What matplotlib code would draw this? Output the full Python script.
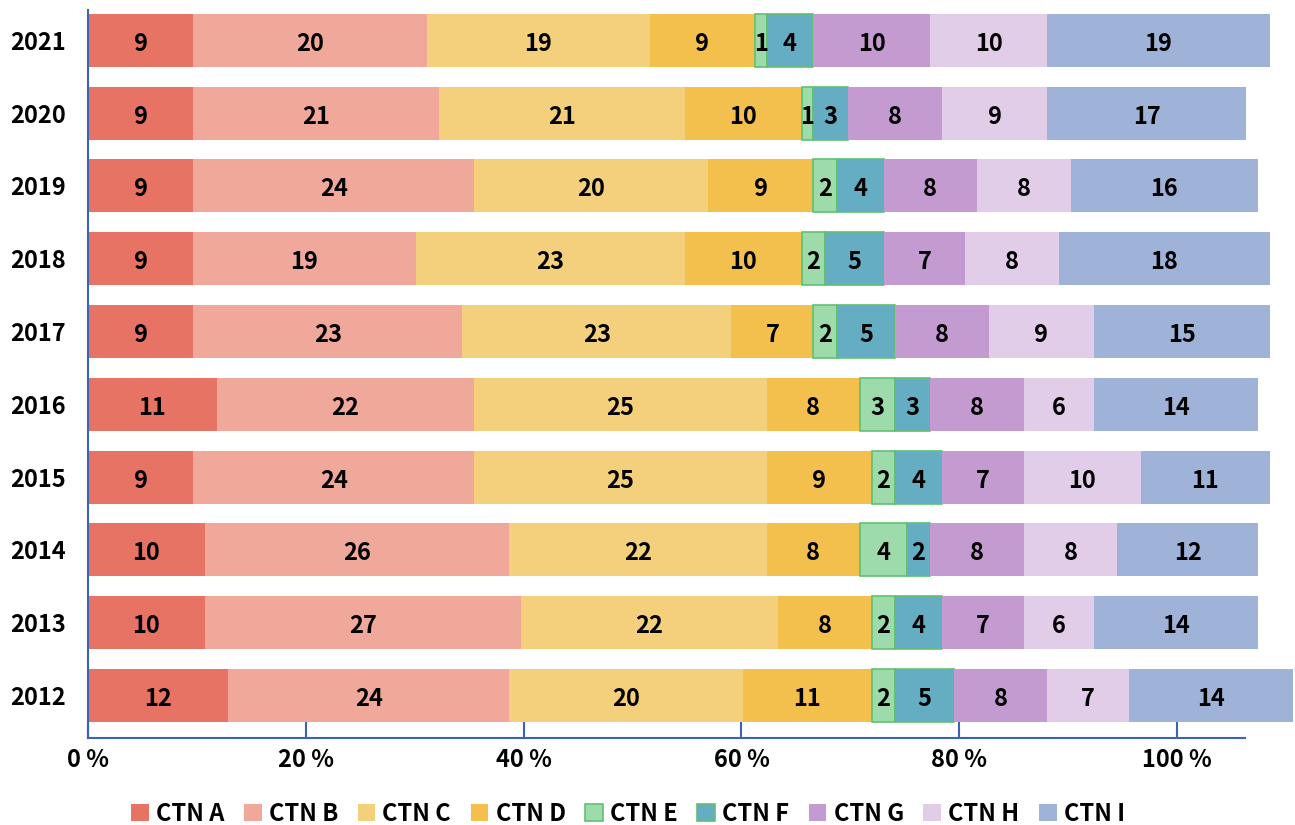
import matplotlib
matplotlib.use("Agg")
import matplotlib.pyplot as plt
import matplotlib.transforms as mtransforms
import numpy as np

years = ["2012", "2013", "2014", "2015", "2016", "2017", "2018", "2019", "2020", "2021"]
series_names = ["CTN A", "CTN B", "CTN C", "CTN D", "CTN E", "CTN F", "CTN G", "CTN H", "CTN I"]

ctn_a = [12, 10, 10, 9, 11, 9, 9, 9, 9, 9]
ctn_b = [24, 27, 26, 24, 22, 23, 19, 24, 21, 20]
ctn_c = [20, 22, 22, 25, 25, 23, 23, 20, 21, 19]
ctn_d = [11, 8, 8, 9, 8, 7, 10, 9, 10, 9]
ctn_e = [2, 2, 4, 2, 3, 2, 2, 2, 1, 1]
ctn_f = [5, 4, 2, 4, 3, 5, 5, 4, 3, 4]
ctn_g = [8, 7, 8, 7, 8, 8, 7, 8, 8, 10]
ctn_h = [7, 6, 8, 10, 6, 9, 8, 8, 9, 10]
ctn_i = [14, 14, 12, 11, 14, 15, 18, 16, 17, 19]

tick_labels = ["0 %", "20 %", "40 %", "60 %", "80 %", "100 %"]

colors = ["#E67363", "#F0A89B", "#F5D07C", "#F3C04E", "#9DDBAA", "#65ADC2",
          "#C49BD0", "#E2CDE8", "#9FB3D9"]
edges = [None, None, None, None, "#62C072", "#62C072", None, None, None]

series = [ctn_a, ctn_b, ctn_c, ctn_d, ctn_e, ctn_f, ctn_g, ctn_h, ctn_i]

FONT = "Noto Sans CJK SC"
FS = 17
plt.rcParams["font.family"] = FONT
plt.rcParams["font.weight"] = "bold"

fig = plt.figure(figsize=(12.95, 8.25), dpi=100)
ax = fig.add_axes([88 / 1295, 87 / 825, (1245 - 88) / 1295, (738 - 10) / 825])

label_tr = mtransforms.offset_copy(ax.transData, fig=fig, x=0, y=-2.5, units="points")

y = np.arange(len(years))
left = np.zeros(len(years))
handles = []
for vals, name, c, e in zip(series, series_names, colors, edges):
    vals = np.array(vals, dtype=float)
    bars = ax.barh(y, vals, left=left, height=0.728, color=c,
                   edgecolor=e if e else c, linewidth=1.2 if e else 0,
                   label=name, clip_on=False)
    handles.append(bars)
    for yi, l, v in zip(y, left, vals):
        ax.text(l + v / 2, yi, f"{int(v)}", ha="center", va="center", transform=label_tr,
                fontsize=FS, family=FONT, fontweight="bold", color="black", clip_on=False)
    left += vals

ax.set_ylim(-0.584, 9.416)
ax.set_xlim(0, 98.9)
tick_unit = 18.62
ax.set_xticks(np.arange(len(tick_labels)) * tick_unit)
ax.set_xticklabels(tick_labels, fontsize=FS, family=FONT, fontweight="bold")
ax.set_yticks(y)
ax.set_yticklabels(years, fontsize=FS, family=FONT, fontweight="bold")

spine_c = "#3A62B5"
for s in ["top", "right"]:
    ax.spines[s].set_visible(False)
ax.spines["left"].set_color(spine_c)
ax.spines["bottom"].set_color(spine_c)
ax.spines["left"].set_linewidth(1.5)
ax.spines["bottom"].set_linewidth(1.5)
ax.tick_params(axis="x", direction="in", length=11.5, width=1.5, color=spine_c, pad=7)
ax.tick_params(axis="y", length=0, pad=16)

fig.legend(handles=handles, labels=series_names, loc="center", bbox_to_anchor=(628 / 1295, 11 / 825),
           ncol=9, frameon=False,
           prop={"family": FONT, "weight": "bold", "size": FS},
           handlelength=0.75, handleheight=0.75, handletextpad=0.3, columnspacing=0.83,
           borderaxespad=0)

fig.savefig("out.png", dpi=100)
